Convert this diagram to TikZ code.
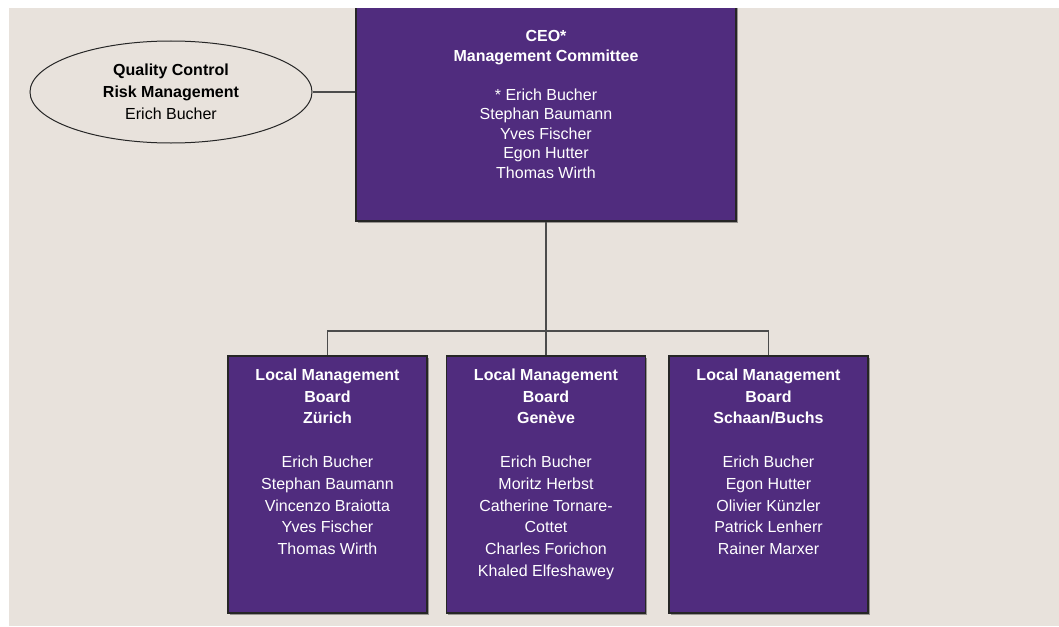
\documentclass[tikz,border=0pt]{standalone}
\usepackage{fontspec}
\setmainfont{Liberation Sans}
\usetikzlibrary{positioning,shapes.geometric,shadows}

\definecolor{boardpurple}{RGB}{80,44,126}
\definecolor{paper}{RGB}{232,226,220}

\begin{document}
\begin{tikzpicture}[
    x=1pt, y=-1pt,
    board/.style={rectangle, draw=black!85, line width=1.2pt, fill=boardpurple, minimum width=199pt, minimum height=257pt, inner sep=0pt,
        drop shadow={shadow xshift=1.5pt, shadow yshift=-1.5pt, fill=black, opacity=0.35}},
    boardtext/.style={text=white, align=center, inner sep=0pt, font=\fontsize{16}{21.8}\selectfont},
    ceotext/.style={boardtext, font=\fontsize{16}{19.5}\selectfont},
    oval/.style={ellipse, draw=black!85, line width=1pt, minimum width=282pt, minimum height=102pt, inner sep=0pt, align=center, font=\fontsize{16}{21.8}\selectfont},
    link/.style={draw=black!70, line width=1.2pt}
]
    \useasboundingbox (0,0) rectangle (1059,626);
    \fill[paper] (0,0) rectangle (1059,626);

    % CEO / management committee
    \node[board, minimum width=380pt, minimum height=223pt] (ceo) at (546,109.5) {};
    \node[ceotext, below=33pt of ceo.north] (ceo_txt) {\textbf{CEO*}\\\textbf{Management Committee}\\[\baselineskip]
        * Erich Bucher\\Stephan Baumann\\Yves Fischer\\Egon Hutter\\Thomas Wirth};

    % Quality control
    \node[oval] (qc) at (171,92) {\textbf{Quality Control}\\\textbf{Risk Management}\\Erich Bucher};

    % Local boards
    \node[board] (zur) at (327.5,484.5) {};
    \node[board] (gen) at (546,484.5) {};
    \node[board] (sch) at (768.5,484.5) {};

    \node[boardtext, below=13pt of zur.north] (zur_txt) {\textbf{Local Management}\\\textbf{Board}\\\textbf{Zürich}\\[\baselineskip]
        Erich Bucher\\Stephan Baumann\\Vincenzo Braiotta\\Yves Fischer\\Thomas Wirth};
    \node[boardtext, below=13pt of gen.north] (gen_txt) {\textbf{Local Management}\\\textbf{Board}\\\textbf{Genève}\\[\baselineskip]
        Erich Bucher\\Moritz Herbst\\Catherine Tornare-\\Cottet\\Charles Forichon\\Khaled Elfeshawey};
    \node[boardtext, below=13pt of sch.north] (sch_txt) {\textbf{Local Management}\\\textbf{Board}\\\textbf{Schaan/Buchs}\\[\baselineskip]
        Erich Bucher\\Egon Hutter\\Olivier Künzler\\Patrick Lenherr\\Rainer Marxer};

    % Connectors
    \coordinate (bus) at (546,331);
    \draw[link] (qc.east) -- (qc.east -| ceo.west);
    \draw[link] (ceo.south) -- (gen.north);
    \draw[link] (zur.north) |- (bus) -| (sch.north);

    % page margin
    \fill[white] (0,0) rectangle (1059,8);
    \fill[white] (0,0) rectangle (9,626);
\end{tikzpicture}
\end{document}
